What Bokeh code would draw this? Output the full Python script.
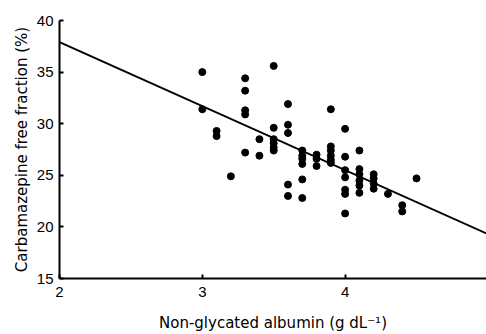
from bokeh.plotting import figure
from bokeh.models import FixedTicker, Range1d
from bokeh.embed import file_html
from bokeh.resources import INLINE

# Data
albumin = [3.0, 3.0,
           3.1, 3.1,
           3.2,
           3.3, 3.3, 3.3, 3.3, 3.3,
           3.4, 3.4,
           3.5, 3.5, 3.5, 3.5, 3.5, 3.5,
           3.6, 3.6, 3.6, 3.6, 3.6,
           3.7, 3.7, 3.7, 3.7, 3.7, 3.7,
           3.8, 3.8, 3.8,
           3.9, 3.9, 3.9, 3.9, 3.9, 3.9,
           4.0, 4.0, 4.0, 4.0, 4.0, 4.0, 4.0,
           4.1, 4.1, 4.1, 4.1, 4.1, 4.1,
           4.2, 4.2, 4.2, 4.2,
           4.3,
           4.4, 4.4,
           4.5]
free_fraction = [35.0, 31.4,
                 29.3, 28.8,
                 24.9,
                 34.4, 33.2, 31.3, 30.9, 27.2,
                 28.5, 26.9,
                 35.6, 29.6, 28.5, 28.1, 27.7, 27.4,
                 31.9, 29.9, 29.1, 24.1, 23.0,
                 27.4, 26.9, 26.6, 26.1, 24.6, 22.8,
                 27.0, 26.6, 25.9,
                 31.4, 27.8, 27.4, 26.9, 26.5, 26.2,
                 29.5, 26.8, 25.5, 24.8, 23.6, 23.2, 21.3,
                 27.4, 25.6, 25.1, 24.5, 24.0, 23.3,
                 25.1, 24.7, 24.2, 23.7,
                 23.2,
                 22.1, 21.5,
                 24.7]
fit_x = [2.0, 5.0]
fit_y = [37.9, 19.3]
x_ticks = [2, 3, 4]
y_ticks = [15, 20, 25, 30, 35, 40]

FONT = "Liberation Sans"
TITLE_FONT = "DejaVu Sans"

p = figure(width=486, height=334, output_backend="svg", toolbar_location=None,
           x_range=Range1d(2, 4.99), y_range=Range1d(15, 40),
           min_border_left=59, min_border_right=0, min_border_top=20, min_border_bottom=54)
p.outline_line_color = None
p.xgrid.visible = False
p.ygrid.visible = False
p.background_fill_color = "white"
p.border_fill_color = "white"

p.line(fit_x, fit_y, line_color="black", line_width=2)
p.scatter(albumin, free_fraction, size=7, fill_color="black", line_color="black")

for ax, ticks in ((p.xaxis[0], x_ticks), (p.yaxis[0], y_ticks)):
    ax.ticker = FixedTicker(ticks=ticks)
    ax.minor_tick_line_color = None
    ax.major_tick_in = 4
    ax.major_tick_out = 0
    ax.major_tick_line_width = 2
    ax.axis_line_width = 2
    ax.axis_line_color = "black"
    ax.major_tick_line_color = "black"
    ax.major_label_text_font = FONT
    ax.major_label_text_font_size = "15px"
    ax.major_label_text_color = "black"
    ax.axis_label_text_font = TITLE_FONT
    ax.axis_label_text_font_size = "15px"
    ax.axis_label_text_font_style = "normal"
    ax.axis_label_text_color = "black"

p.xaxis.axis_label = "Non-glycated albumin (g dL\u207b\u00b9)"
p.yaxis.axis_label = "Carbamazepine free fraction (%)"
p.xaxis.major_label_standoff = 8
p.yaxis.major_label_standoff = 6
p.xaxis.axis_label_standoff = 14
p.yaxis.axis_label_standoff = 3

open("out.html", "w").write(file_html(p, INLINE))
